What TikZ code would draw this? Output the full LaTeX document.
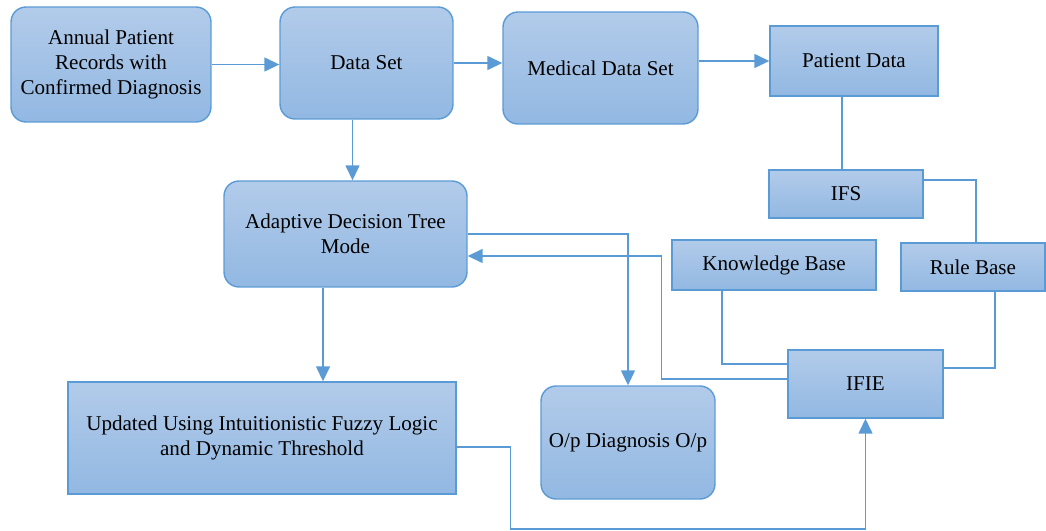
\documentclass[tikz,border=0pt]{standalone}
\usepackage{fontspec}
\setmainfont{Liberation Serif}
\usepackage{tikz}
\usetikzlibrary{arrows.meta}

\definecolor{boxtop}{RGB}{178,203,234}
\definecolor{boxbot}{RGB}{146,184,226}
\definecolor{lineblue}{RGB}{91,155,213}

\begin{document}
\begin{tikzpicture}[x=0.02cm, y=-0.02cm]
    % Define styles
    \tikzset{
        blk/.style={draw=lineblue, line width=0.8pt, shading=axis, top color=boxtop, bottom color=boxbot,
                    font=\fontsize{12}{14.2}\selectfont, align=center, inner sep=0pt},
        rblk/.style={blk, rounded corners=0.3cm},
        link/.style={draw=lineblue, line width=0.8pt},
        arr/.style={link, -{Triangle[length=0.3cm, width=0.28cm]}}
    }
    \useasboundingbox (0,0) rectangle (1046,531);

    % Top row
    \node[rblk, minimum width=4cm, minimum height=2.3cm] (ann) at (111,64.5) {Annual Patient\\Records with\\Confirmed Diagnosis};
    \node[rblk, minimum width=3.46cm, minimum height=2.24cm] (ds) at (366.5,63) {Data Set};
    \node[rblk, minimum width=3.9cm, minimum height=2.24cm] (mds) at (600.5,68) {Medical Data Set};
    \node[blk, minimum width=3.36cm, minimum height=1.4cm] (pd) at (854,61) {Patient Data};

    % Right column
    \node[blk, minimum width=3.08cm, minimum height=0.96cm] (ifs) at (846,194) {IFS};
    \node[blk, minimum width=4.08cm, minimum height=1cm] (kb) at (774,265) {Knowledge Base};
    \node[blk, minimum width=2.88cm, minimum height=0.96cm] (rb) at (973,267) {Rule Base};
    \node[blk, minimum width=3.1cm, minimum height=1.36cm] (ifie) at (865.5,384) {IFIE};

    % Middle and bottom
    \node[rblk, minimum width=4.86cm, minimum height=2.12cm] (adt) at (345.5,234) {Adaptive Decision Tree\\Mode};
    \node[blk, minimum width=7.76cm, minimum height=2.24cm] (upd) at (262,438) {Updated Using Intuitionistic Fuzzy Logic\\and Dynamic Threshold};
    \node[rblk, minimum width=3.48cm, minimum height=2.26cm] (opd) at (628,442.5) {O/p Diagnosis O/p};

    % Connectors
    \draw[arr] (ann.east) -- (ann.east -| ds.west);
    \draw[arr] (ds.east) -- (ds.east -| mds.west);
    \draw[arr] (mds.east |- pd) -- (pd.west);
    \draw[arr] ([xshift=-0.28cm]ds.south) -- ([xshift=-0.28cm]ds.south |- adt.north);
    \draw[arr] ([xshift=-0.45cm]adt.south) -- ([xshift=-0.45cm]adt.south |- upd.north);
    \draw[link] ([xshift=-0.24cm]pd.south) -- ([xshift=-0.24cm]pd.south |- ifs.north);
    \draw[link] ([yshift=0.28cm]ifs.east) -| ([xshift=0.06cm]rb.north);
    \draw[link] ([xshift=-1.04cm]kb.south) |- ([yshift=0.4cm]ifie.west);
    \draw[link] ([xshift=0.44cm]rb.south) |- ([yshift=0.32cm]ifie.east);
    \draw[arr] (adt.east) -| (opd.north);
    \draw[arr] ([yshift=0.1cm]ifie.west) -- ++(-126,0) |- ([yshift=-0.44cm]adt.east);
    \draw[arr] ([yshift=-0.18cm]upd.east) -- ++(54,0) -- ++(0,82) -| (ifie.south);
\end{tikzpicture}
\end{document}
